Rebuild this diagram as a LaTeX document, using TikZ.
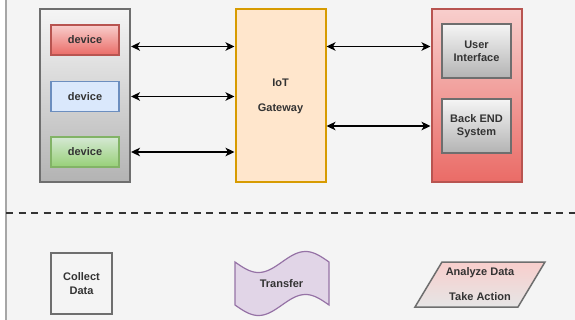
\documentclass[tikz,border=0pt]{standalone}
\usepackage{fontspec}
\setmainfont{Liberation Sans}
\usetikzlibrary{arrows.meta}

\definecolor{bg}{HTML}{F4F4F4}
\definecolor{txt}{HTML}{333333}
\definecolor{greyline}{HTML}{6E6E6E}
\definecolor{greytop}{HTML}{F5F5F5}
\definecolor{greybot}{HTML}{B3B3B3}
\definecolor{redtop}{HTML}{F8CECC}
\definecolor{redbot}{HTML}{EA6B66}
\definecolor{redline}{HTML}{B85450}
\definecolor{greentop}{HTML}{D5E8D4}
\definecolor{greenbot}{HTML}{97D077}
\definecolor{greenline}{HTML}{82B366}
\definecolor{bluefill}{HTML}{DAE8FC}
\definecolor{blueline}{HTML}{6C8EBF}
\definecolor{gwfill}{HTML}{FFE6CC}
\definecolor{gwline}{HTML}{D79B00}
\definecolor{tapefill}{HTML}{E1D5E7}
\definecolor{tapeline}{HTML}{9673A6}

\begin{document}
\begin{tikzpicture}[x=1pt, y=-1pt, align=center, text=txt,
  font=\fontsize{11}{13}\selectfont\bfseries,
  panel/.style={draw, line width=2pt, minimum width=90pt, minimum height=173pt},
  box/.style={draw, line width=1.5pt, minimum width=68pt, minimum height=30pt},
  link/.style={{Stealth[length=9pt, width=8.5pt, inset=2.5pt]}-{Stealth[length=9pt, width=8.5pt, inset=2.5pt]}, line width=1.8pt, black}]

\useasboundingbox (0, 0) rectangle (575, 320);
\fill [white] (0, 0) rectangle (575, 320);
\fill [bg] (6, 0) rectangle (575, 320);
\draw [gray!70, line width=1.5pt] (6, 0) -- (6, 320);

\node [panel, draw=greyline, top color=greytop, bottom color=greybot] (devs) at (85, 95.5) {};
\node [panel, draw=gwline, fill=gwfill] (gw) at (280.5, 96) {IoT\\[12pt]Gateway};
\node [panel, draw=redline, top color=redtop, bottom color=redbot] (apps) at (476.5, 96) {};

\node [box, draw=redline, top color=redtop, bottom color=redbot] (dev1) at (85, 40) {device};
\node [box, draw=blueline, fill=bluefill] (dev2) at (85, 96.5) {device};
\node [box, draw=greenline, top color=greentop, bottom color=greenbot] (dev3) at (85, 152) {device};

\node [box, draw=greyline, top color=greytop, bottom color=greybot, minimum width=69pt, minimum height=54pt] (ui) at (476.5, 51) {User\\Interface};
\node [box, draw=greyline, top color=greytop, bottom color=greybot, minimum width=69pt, minimum height=54pt] (be) at (476.5, 126) {Back END\\System};

\draw [link] ([yshift=-6.5pt]devs.east |- dev1) -- ([yshift=-6.5pt]gw.west |- dev1);
\draw [link] (devs.east |- dev2) -- (gw.west |- dev2);
\draw [link] (devs.east |- dev3) -- (gw.west |- dev3);
\draw [link] ([yshift=4.5pt]gw.east |- ui) -- ([yshift=4.5pt]apps.west |- ui);
\draw [link] (gw.east |- be) -- (apps.west |- be);

% separator
\coordinate (sepL) at (6, 213);
\coordinate (sepR) at (575, 213);
\draw [txt, line width=2.5pt, dash pattern=on 7pt off 5.5pt] (sepL) -- (sepR);

\node [draw=greyline, line width=2pt, minimum size=61pt] (collect) at (81.5, 283.5) {Collect\\[1pt]Data};

\draw [draw=tapeline, fill=tapefill, line width=1.2pt]
  plot [domain=0:94, samples=40, smooth] ({235 + \x}, {262 + 10.5*sin(3.83*\x)})
  -- plot [domain=94:0, samples=40, smooth] ({235 + \x}, {305 + 10.5*sin(3.83*\x)})
  -- cycle;
\node (transfer) at (281.5, 284) {Transfer};

\path [draw=greyline, line width=1.5pt, top color=redtop, bottom color=gray!20]
  (415, 307) -- (442, 262) -- (545, 262) -- (518, 307) -- cycle;
\node (act) at (480, 284.5) {Analyze Data\\[12pt]Take Action};

\end{tikzpicture}
\end{document}
